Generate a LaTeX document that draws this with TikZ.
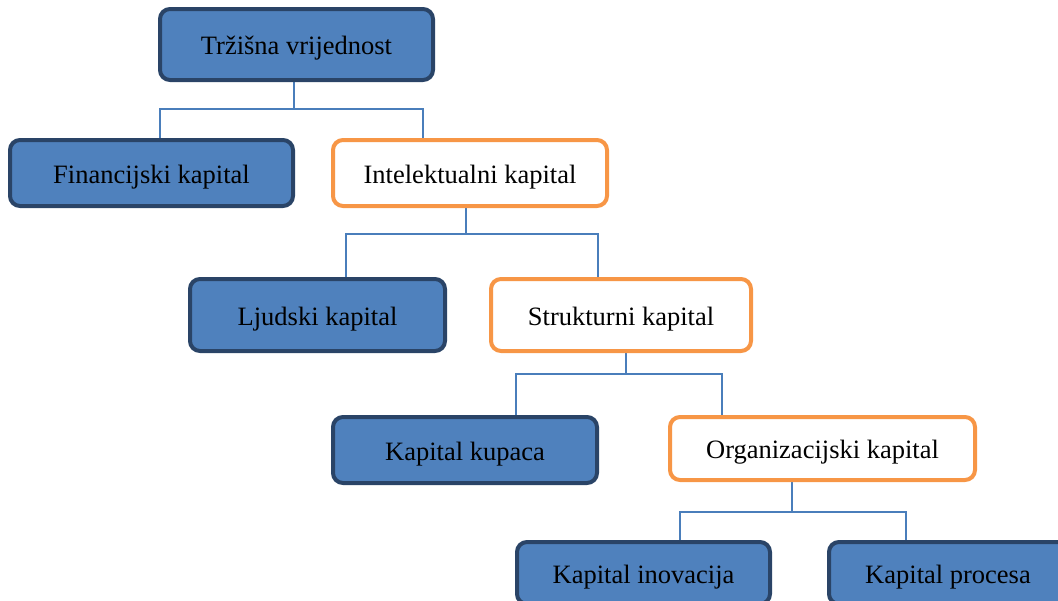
\documentclass[tikz,border=0pt]{standalone}
\usepackage{fontspec}
\setmainfont{Liberation Serif}
\usetikzlibrary{backgrounds}
\definecolor{boxblue}{HTML}{4F81BD}
\definecolor{boxdark}{HTML}{2A4467}
\definecolor{boxorange}{HTML}{F79646}
\definecolor{connblue}{HTML}{4A7EBB}
\tikzset{
  bluebox/.style={draw=boxdark, fill=boxblue, line width=4pt, rounded corners=10pt,
    inner sep=0pt, align=center, text height=20.5pt, text depth=0pt,
    font=\fontsize{26.5}{30}\selectfont},
  orangebox/.style={draw=boxorange, fill=white, line width=4pt, rounded corners=10pt,
    inner sep=0pt, align=center, text height=20.5pt, text depth=0pt,
    font=\fontsize{26.5}{30}\selectfont},
  conn/.style={draw=connblue, line width=1.5pt},
}
\begin{document}
\begin{tikzpicture}[x=1pt,y=-1pt]
\useasboundingbox (0,0) rectangle (1058,600);
\node[bluebox, minimum width=273pt, minimum height=71pt] (n1) at (296.5,44.5) {Tržišna vrijednost};
\node[bluebox, minimum width=283pt, minimum height=66pt] (n2) at (151.5,173) {Financijski kapital};
\node[orangebox, minimum width=274pt, minimum height=66pt] (n3) at (470,173) {Intelektualni kapital};
\node[bluebox, minimum width=255pt, minimum height=72pt] (n4) at (317.5,315) {Ljudski kapital};
\node[orangebox, minimum width=260pt, minimum height=72pt] (n5) at (621,315) {Strukturni kapital};
\node[bluebox, minimum width=264pt, minimum height=66pt] (n6) at (465,450) {Kapital kupaca};
\node[orangebox, minimum width=305pt, minimum height=63pt] (n7) at (822.5,448.5) {Organizacijski kapital};
\node[bluebox, minimum width=253pt, minimum height=62pt] (n8) at (643.5,573) {Kapital inovacija};
\node[bluebox, minimum width=238pt, minimum height=62pt] (n9) at (948,573) {Kapital procesa};
\begin{scope}[on background layer]
\draw[conn] ([xshift=-2.5pt]n1.south) -- ++(0,27) -| ([xshift=8.5pt]n2.north);
\draw[conn] ([xshift=-2.5pt]n1.south) -- ++(0,27) -| ([xshift=-47pt]n3.north);
\draw[conn] ([xshift=-4pt]n3.south) -- ++(0,26) -| ([xshift=28.5pt]n4.north);
\draw[conn] ([xshift=-4pt]n3.south) -- ++(0,26) -| ([xshift=-23pt]n5.north);
\draw[conn] ([xshift=5pt]n5.south) -- ++(0,21) -| ([xshift=51pt]n6.north);
\draw[conn] ([xshift=5pt]n5.south) -- ++(0,21) -| ([xshift=-100.5pt]n7.north);
\draw[conn] ([xshift=-30.5pt]n7.south) -- ++(0,30) -| ([xshift=36.5pt]n8.north);
\draw[conn] ([xshift=-30.5pt]n7.south) -- ++(0,30) -| ([xshift=-42pt]n9.north);
\end{scope}
\end{tikzpicture}
\end{document}
